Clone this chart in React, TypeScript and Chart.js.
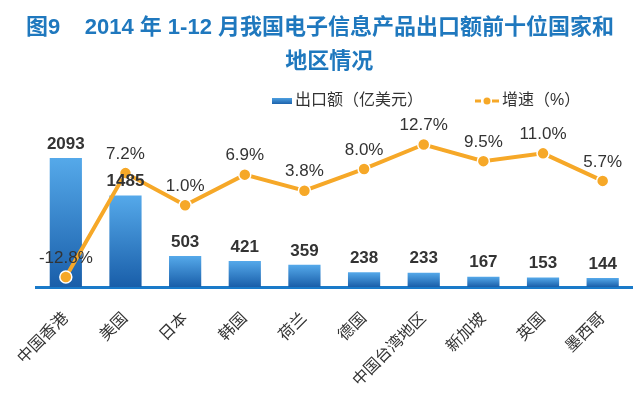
import React, { useEffect, useRef } from "react";
import { Chart, registerables } from "chart.js";

Chart.register(...registerables);

const categories = ["中国香港", "美国", "日本", "韩国", "荷兰", "德国", "中国台湾地区", "新加坡", "英国", "墨西哥"];
const exportValues = [2093, 1485, 503, 421, 359, 238, 233, 167, 153, 144];
const growthValues = [-12.8, 7.2, 1.0, 6.9, 3.8, 8.0, 12.7, 9.5, 11.0, 5.7];
const titleLines = ["图9    2014 年 1-12 月我国电子信息产品出口额前十位国家和", "   地区情况"];
const barLegend = "出口额（亿美元）";
const lineLegend = "增速（%）";

const FONT = '"Liberation Sans", Arial, "Noto Sans CJK SC", sans-serif';
const ORANGE = "#f6a828";
const TEXT = "#333333";

const customLegend = {
  id: "customLegend",
  afterDraw(chart: any) {
    const ctx = chart.ctx;
    ctx.save();
    const y = 101;
    const g = ctx.createLinearGradient(0, y - 3, 0, y + 3);
    g.addColorStop(0, "#4d9fe0");
    g.addColorStop(1, "#1c62ac");
    ctx.fillStyle = g;
    ctx.fillRect(272, y - 3, 20, 6);
    ctx.font = `16px ${FONT}`;
    ctx.fillStyle = TEXT;
    ctx.textBaseline = "middle";
    ctx.textAlign = "left";
    ctx.fillText(barLegend, 295, y);
    ctx.strokeStyle = ORANGE;
    ctx.lineWidth = 3;
    ctx.beginPath();
    ctx.moveTo(475, y);
    ctx.lineTo(481, y);
    ctx.moveTo(492, y);
    ctx.lineTo(499, y);
    ctx.stroke();
    ctx.fillStyle = ORANGE;
    ctx.beginPath();
    ctx.arc(487, y, 3.5, 0, Math.PI * 2);
    ctx.fill();
    ctx.fillStyle = TEXT;
    ctx.fillText(lineLegend, 502, y);
    ctx.restore();
  },
};

const valueLabels = {
  id: "valueLabels",
  afterDatasetsDraw(chart: any) {
    const ctx = chart.ctx;
    ctx.save();
    ctx.textAlign = "center";
    ctx.textBaseline = "middle";
    ctx.fillStyle = TEXT;
    chart.data.datasets.forEach((ds: any, di: number) => {
      const meta = chart.getDatasetMeta(di);
      if (ds.type === "bar") {
        ctx.font = `bold 17px ${FONT}`;
        meta.data.forEach((el: any, i: number) => {
          ctx.fillText(String(exportValues[i]), el.x, el.y - 14);
        });
      } else {
        ctx.font = `17px ${FONT}`;
        meta.data.forEach((el: any, i: number) => {
          ctx.fillText(growthValues[i].toFixed(1) + "%", el.x, el.y - 19);
        });
      }
    });
    ctx.restore();
  },
};

export default function App() {
  const ref = useRef<HTMLCanvasElement | null>(null);
  useEffect(() => {
    if (!ref.current) return;
    const chart = new Chart(ref.current, {
      type: "bar",
      data: {
        labels: categories,
        datasets: [
          {
            type: "line",
            label: lineLegend,
            data: growthValues,
            yAxisID: "y2",
            borderColor: ORANGE,
            borderWidth: 4,
            pointRadius: 6,
            pointBackgroundColor: ORANGE,
            pointBorderColor: "#ffffff",
            pointBorderWidth: 1.5,
            tension: 0,
            order: 0,
          } as any,
          {
            type: "bar",
            label: barLegend,
            data: exportValues,
            yAxisID: "y",
            barPercentage: 0.54,
            categoryPercentage: 1,
            order: 1,
            backgroundColor: (c: any) => {
              const chart = c.chart;
              const ys = chart.scales && chart.scales.y;
              if (!chart.chartArea || !ys || c.raw === undefined) return "#3a8ad4";
              const top = ys.getPixelForValue(c.raw);
              const bottom = ys.getPixelForValue(0);
              if (!isFinite(top) || !isFinite(bottom) || bottom - top < 1) return "#3a8ad4";
              const g = chart.ctx.createLinearGradient(0, top, 0, bottom);
              g.addColorStop(0, "#55a9ea");
              g.addColorStop(1, "#195ea9");
              return g;
            },
          } as any,
        ],
      },
      options: {
        responsive: false,
        animation: false,
        devicePixelRatio: 1,
        layout: { padding: 0 },
        plugins: {
          legend: { display: false },
          tooltip: { enabled: false },
          title: {
            display: true,
            text: titleLines,
            color: "#1f78be",
            font: { family: FONT, size: 22, weight: "bold", lineHeight: 1.55 },
            padding: { top: 11, bottom: 46 },
          },
        },
        scales: {
          x: {
            offset: true,
            grid: { display: false },
            border: { display: true, color: "#1a7ac9", width: 3 },
            ticks: {
              color: TEXT,
              font: { family: FONT, size: 16 },
              minRotation: 45,
              maxRotation: 45,
              autoSkip: false,
              padding: 14,
            },
            afterFit: (s: any) => {
              s.height = 109;
              s.paddingLeft = 0;
              s.paddingRight = 0;
            },
          },
          y: {
            display: true,
            position: "left",
            min: 0,
            max: 2625,
            grid: { display: false },
            border: { display: false },
            ticks: { display: false },
            afterFit: (s: any) => {
              s.width = 36;
            },
          },
          y2: {
            display: true,
            position: "right",
            min: -14.73,
            max: 16.42,
            grid: { display: false },
            border: { display: false },
            ticks: { display: false },
            afterFit: (s: any) => {
              s.width = 4;
            },
          },
        },
      },
      plugins: [customLegend, valueLabels],
    });
    return () => chart.destroy();
  }, []);
  return (
    <div style={{ position: "absolute", left: 0, top: 0, width: 640, height: 396, background: "#fff" }}>
      <canvas ref={ref} width={640} height={396} style={{ width: 640, height: 396, display: "block" }} />
    </div>
  );
}
